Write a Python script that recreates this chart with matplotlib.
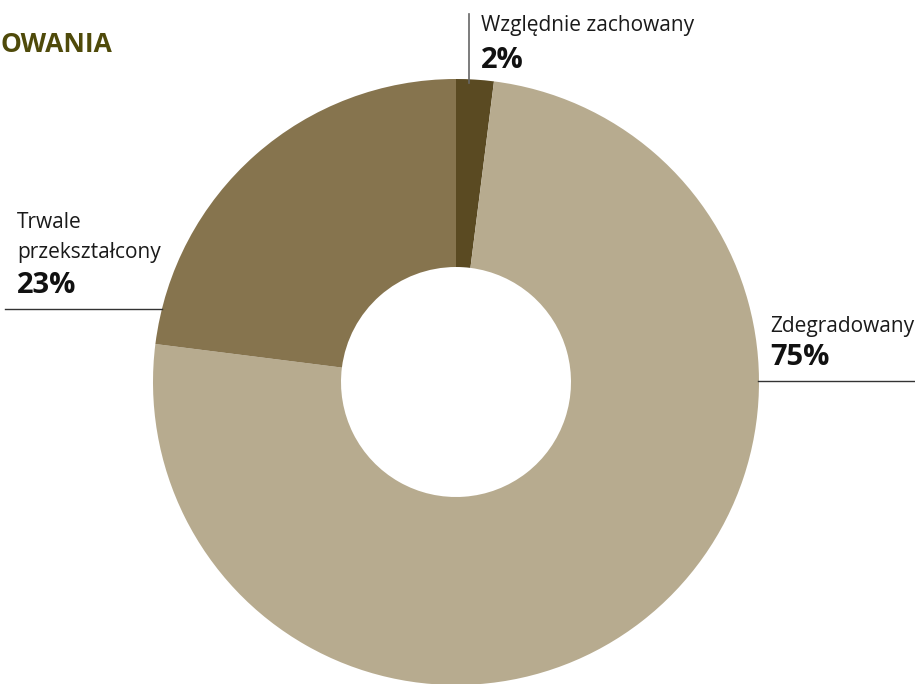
import matplotlib
matplotlib.use("Agg")
import matplotlib.pyplot as plt

categories = ["Względnie zachowany", "Zdegradowany", "Trwale\nprzekształcony"]
values = [2, 75, 23]
labels_pct = ["2%", "75%", "23%"]
colors = ["#5a4a22", "#b7ab8f", "#86744e"]
title_text = "OWANIA"

W, H = 915, 684
fig = plt.figure(figsize=(W / 100, H / 100), dpi=100)
ax = fig.add_axes([0, 0, 1, 1])

def Y(y):
    return H - y

cx, cy, R, r = 456, 382, 303, 115
ax.pie(values, colors=colors, startangle=90, counterclock=False,
       center=(cx, Y(cy)), radius=R,
       wedgeprops=dict(width=R - r, linewidth=0, antialiased=True))
ax.set_xlim(0, W)
ax.set_ylim(0, H)
ax.set_aspect('equal')
ax.axis('off')

font = "Open Sans"
fs_lab = 15
fs_pct = 21

# title (cut off)
ax.text(112, Y(52), title_text, ha='right', va='baseline', fontsize=19,
        fontweight='bold', color="#4f4a0a", family=font)

# top label: Względnie zachowany
ax.plot([469, 469], [Y(14), Y(83)], color="#666666", lw=1.2)
ax.text(481, Y(31), categories[0], ha='left', va='baseline', fontsize=fs_lab,
        color="#1a1a1a", family=font)
ax.text(481, Y(68), labels_pct[0], ha='left', va='baseline', fontsize=fs_pct,
        fontweight='bold', color="#111111", family=font)

# right label: Zdegradowany
ax.plot([758, 915], [Y(381), Y(381)], color="#333333", lw=1.0)
ax.text(770, Y(332), categories[1], ha='left', va='baseline', fontsize=fs_lab,
        color="#1a1a1a", family=font)
ax.text(770, Y(365), labels_pct[1], ha='left', va='baseline', fontsize=fs_pct,
        fontweight='bold', color="#111111", family=font)

# left label: Trwale przekształcony
ax.plot([5, 162], [Y(309), Y(309)], color="#333333", lw=1.0)
l1, l2 = categories[2].split("\n")
ax.text(17, Y(228), l1, ha='left', va='baseline', fontsize=fs_lab,
        color="#1a1a1a", family=font)
ax.text(17, Y(258), l2, ha='left', va='baseline', fontsize=fs_lab,
        color="#1a1a1a", family=font)
ax.text(17, Y(293), labels_pct[2], ha='left', va='baseline', fontsize=fs_pct,
        fontweight='bold', color="#111111", family=font)

fig.savefig("out.png", dpi=100, facecolor="white")
